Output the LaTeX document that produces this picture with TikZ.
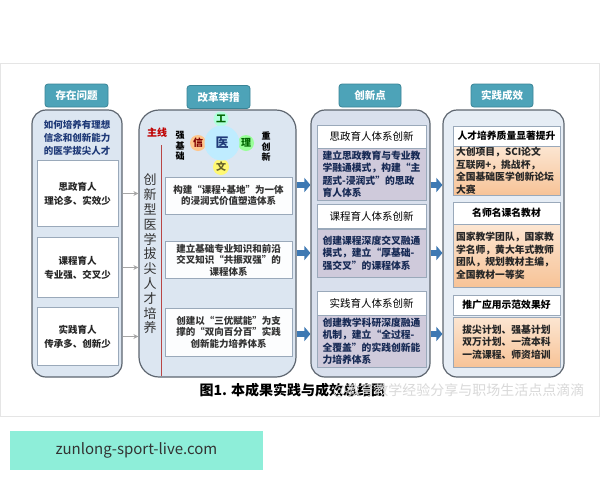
\documentclass[tikz,border=0pt]{standalone}
\usepackage{fontspec}
\setmainfont{Noto Sans CJK SC}
\usetikzlibrary{arrows.meta}

\definecolor{hdrfill}{HTML}{4DA3B8}
\definecolor{hdrline}{HTML}{3A8496}
\definecolor{panelbg}{HTML}{DCE6F1}
\definecolor{panelline}{HTML}{5E6670}
\definecolor{boxline}{HTML}{9AA9BA}
\definecolor{purplebg}{HTML}{CFCADB}
\definecolor{orangetop}{HTML}{FCE6D2}
\definecolor{orangebot}{HTML}{F7C397}
\definecolor{arrblue}{HTML}{3E79B3}
\definecolor{navytext}{HTML}{1F3A78}
\definecolor{mintbg}{HTML}{8EEED9}

\tikzset{
  hdr/.style={draw=hdrline, fill=hdrfill, rounded corners=3pt, line width=0.8pt,
    text=white, font=\bfseries\fontsize{10.5}{12}\selectfont,
    minimum width=63pt, minimum height=23pt, inner sep=0pt},
  panel/.style={draw=panelline, fill=panelbg, line width=1.2pt, rounded corners=14pt,
    inner sep=0pt},
  whitebox/.style={draw=boxline, fill=white, line width=0.8pt, inner sep=0pt,
    align=center, font=\bfseries\fontsize{9.5}{14}\selectfont, text=black!85},
  stepbox/.style={draw=boxline, fill=white!92!panelbg, line width=0.8pt, inner sep=0pt,
    align=center, font=\bfseries\fontsize{9.5}{11.5}\selectfont, text=black!80},
  titlebox/.style={draw=boxline, fill=white, line width=0.8pt, inner sep=0pt,
    font=\fontsize{10.5}{12}\selectfont},
  purplebox/.style={draw=boxline, fill=purplebg, line width=0.8pt, inner sep=0pt,
    align=left, font=\bfseries\fontsize{9.8}{12.5}\selectfont, text=navytext!70!black},
  orangebox/.style={draw=boxline, top color=orangetop, bottom color=orangebot,
    line width=0.8pt, inner sep=0pt, font=\bfseries\fontsize{9.8}{12.5}\selectfont,
    text=black!85},
  petal/.style={circle, minimum size=16pt, inner sep=0pt,
    font=\bfseries\fontsize{10}{10}\selectfont},
  grayarr/.style={draw=gray!70, line width=1pt, -{Stealth[length=5pt,width=5pt]}},
  bluearr/.style={draw=arrblue, line width=6pt, -{Triangle[length=6pt,width=14pt]}},
}

\begin{document}
\begin{tikzpicture}[x=1pt, y=-1pt]
  \useasboundingbox (0,0) rectangle (600,480);
  \fill[white] (0,0) rectangle (600,480);
  \draw[gray!20] (0.5,63) rectangle (599.5,416);

  % 四列
  \node[panel, minimum width=90pt, minimum height=267pt] (p1) at (77,243.5) {};
  \node[panel, minimum width=157pt, minimum height=267pt, rounded corners=20pt] (p2) at (217.5,243.5) {};
  \node[panel, minimum width=119pt, minimum height=267pt, fill=panelbg!80!purplebg] (p3) at (370.5,243.5) {};
  \node[panel, minimum width=121pt, minimum height=267pt, fill=panelbg!70!white] (p4) at (503.5,243.5) {};

  \node[hdr] (h1) at (76.5,95.5) {存在问题};
  \node[hdr] (h2) at (218.5,97) {改革举措};
  \node[hdr, minimum width=62pt] (h3) at (370,95.5) {创新点};
  \node[hdr, minimum width=62pt] (h4) at (502,95.5) {实践成效};

  % 存在问题
  \node[align=center, text=navytext, font=\bfseries\fontsize{9.5}{13}\selectfont] (q) at (77,138)
    {如何培养有理想\\信念和创新能力\\的医学拔尖人才};
  \node[whitebox, minimum width=81pt, minimum height=66pt] (a1) at (77.5,193.5) {思政育人\\理论多、实效少};
  \node[whitebox, minimum width=81pt, minimum height=60pt] (a2) at (77.5,267.5) {课程育人\\专业强、交叉少};
  \node[whitebox, minimum width=81pt, minimum height=58pt] (a3) at (77.5,336.5) {实践育人\\传承多、创新少};

  % 改革举措
  \node[text=red!75!black, font=\bfseries\fontsize{10}{10}\selectfont] (zx) at (157,133) {主线};
  \draw[red!45!gray, line width=0.8pt] (161,145) -- (161,376.4);
  \node[align=center, text=black!80, font=\fontsize{13}{14.8}\selectfont] (vt) at (150,254)
    {创\\新\\型\\医\\学\\拔\\尖\\人\\才\\培\\养};
  \node[align=center, font=\bfseries\fontsize{9}{10.5}\selectfont] (qj) at (180,146) {强\\基\\础};
  \node[align=center, font=\bfseries\fontsize{9}{10.5}\selectfont] (cx) at (266,147) {重\\创\\新};
  \node[petal, fill=green!45!cyan!30, text=green!40!black, minimum size=15pt] (gong) at (221,119) {工};
  \node[petal, fill=orange!45, text=red!50!black] (xin) at (198,143) {信};
  \node[petal, fill=green!40, text=green!40!black] (li) at (246,143) {理};
  \node[petal, fill=yellow!55, text=olive!60!black] (wen) at (221,167) {文};
  \node[petal, fill=blue!30!cyan!25, text=navytext, minimum size=35pt,
    font=\bfseries\fontsize{13}{13}\selectfont] (yi) at (222,143) {医};
  \node[stepbox, minimum width=127pt, minimum height=37pt] (b1) at (228.5,195.5)
    {构建“课程+基地”为一体\\的浸润式价值塑造体系};
  \node[stepbox, minimum width=127pt, minimum height=37pt] (b2) at (228.5,260)
    {建立基础专业知识和前沿\\交叉知识“共振双强”的\\课程体系};
  \node[stepbox, minimum width=127pt, minimum height=48pt] (b3) at (228.5,332)
    {创建以“三优赋能”为支\\撑的“双向百分百”实践\\创新能力培养体系};

  % 创新点
  \node[titlebox, minimum width=109pt, minimum height=23pt] (c1) at (371.5,136.5) {思政育人体系创新};
  \node[purplebox, minimum width=109pt, minimum height=52pt] (d1) at (371.5,174)
    {建立思政教育与专业教\\学融通模式，构建“主\\题式-浸润式”的思政\\育人体系};
  \node[titlebox, minimum width=109pt, minimum height=24pt] (c2) at (371.5,216) {课程育人体系创新};
  \node[purplebox, minimum width=109pt, minimum height=48pt] (d2) at (371.5,253)
    {创建课程深度交叉融通\\模式，建立“厚基础-\\强交叉”的课程体系};
  \node[titlebox, minimum width=109pt, minimum height=24pt] (c3) at (371.5,303) {实践育人体系创新};
  \node[purplebox, minimum width=109pt, minimum height=52pt] (d3) at (371.5,341)
    {创建教学科研深度融通\\机制，建立“全过程-\\全覆盖”的实践创新能\\力培养体系};

  % 实践成效
  \node[titlebox, minimum width=107pt, minimum height=20pt, font=\bfseries\fontsize{9.8}{12}\selectfont] (e1) at (506.5,136)
    {人才培养质量显著提升};
  \node[orangebox, minimum width=107pt, minimum height=49pt, text width=101pt, align=left] (f1) at (506.5,170.5)
    {大创项目，SCI论文\\互联网+，挑战杯，\\全国基础医学创新论坛\\大赛};
  \node[titlebox, minimum width=107pt, minimum height=22pt, font=\bfseries\fontsize{9.8}{12}\selectfont] (e2) at (506.5,213)
    {名师名课名教材};
  \node[orangebox, minimum width=107pt, minimum height=63pt, text width=101pt, align=left] (f2) at (506.5,255.5)
    {国家教学团队，国家教\\学名师，黄大年式教师\\团队，规划教材主编，\\全国教材一等奖};
  \node[titlebox, minimum width=107pt, minimum height=20pt, font=\bfseries\fontsize{9.8}{12}\selectfont] (e3) at (506.5,305)
    {推广应用示范效果好};
  \node[orangebox, minimum width=107pt, minimum height=50pt, align=center] (f3) at (506.5,342)
    {拔尖计划、强基计划\\双万计划、一流本科\\一流课程、师资培训};

  % 箭头
  \foreach \n in {1,2,3}
    \draw[grayarr] (p1.east |- a\n.center) -- (p2.west |- a\n.center);
  \foreach \y in {185,253,334} {
    \draw[bluearr] (p2.east |- 0,\y) -- (p3.west |- 0,\y);
    \draw[bluearr] (p3.east |- 0,\y) -- (p4.west |- 0,\y);
  }

  % 图题
  \node[font=\bfseries\fontsize{14}{14}\selectfont, anchor=west] (cap) at (196,390)
    {图1. 本成果实践与成效总结图};
  \node[text=gray!30, font=\fontsize{14}{14}\selectfont, anchor=east] (wm) at (588,391)
    {@教育教学经验分享与职场生活点点滴滴};

  \node[fill=mintbg, minimum width=253pt, minimum height=39pt, text=black!80,
    font=\fontsize{15}{15}\selectfont] (url) at (136.5,450.5) {zunlong-sport-live.com};
\end{tikzpicture}
\end{document}
